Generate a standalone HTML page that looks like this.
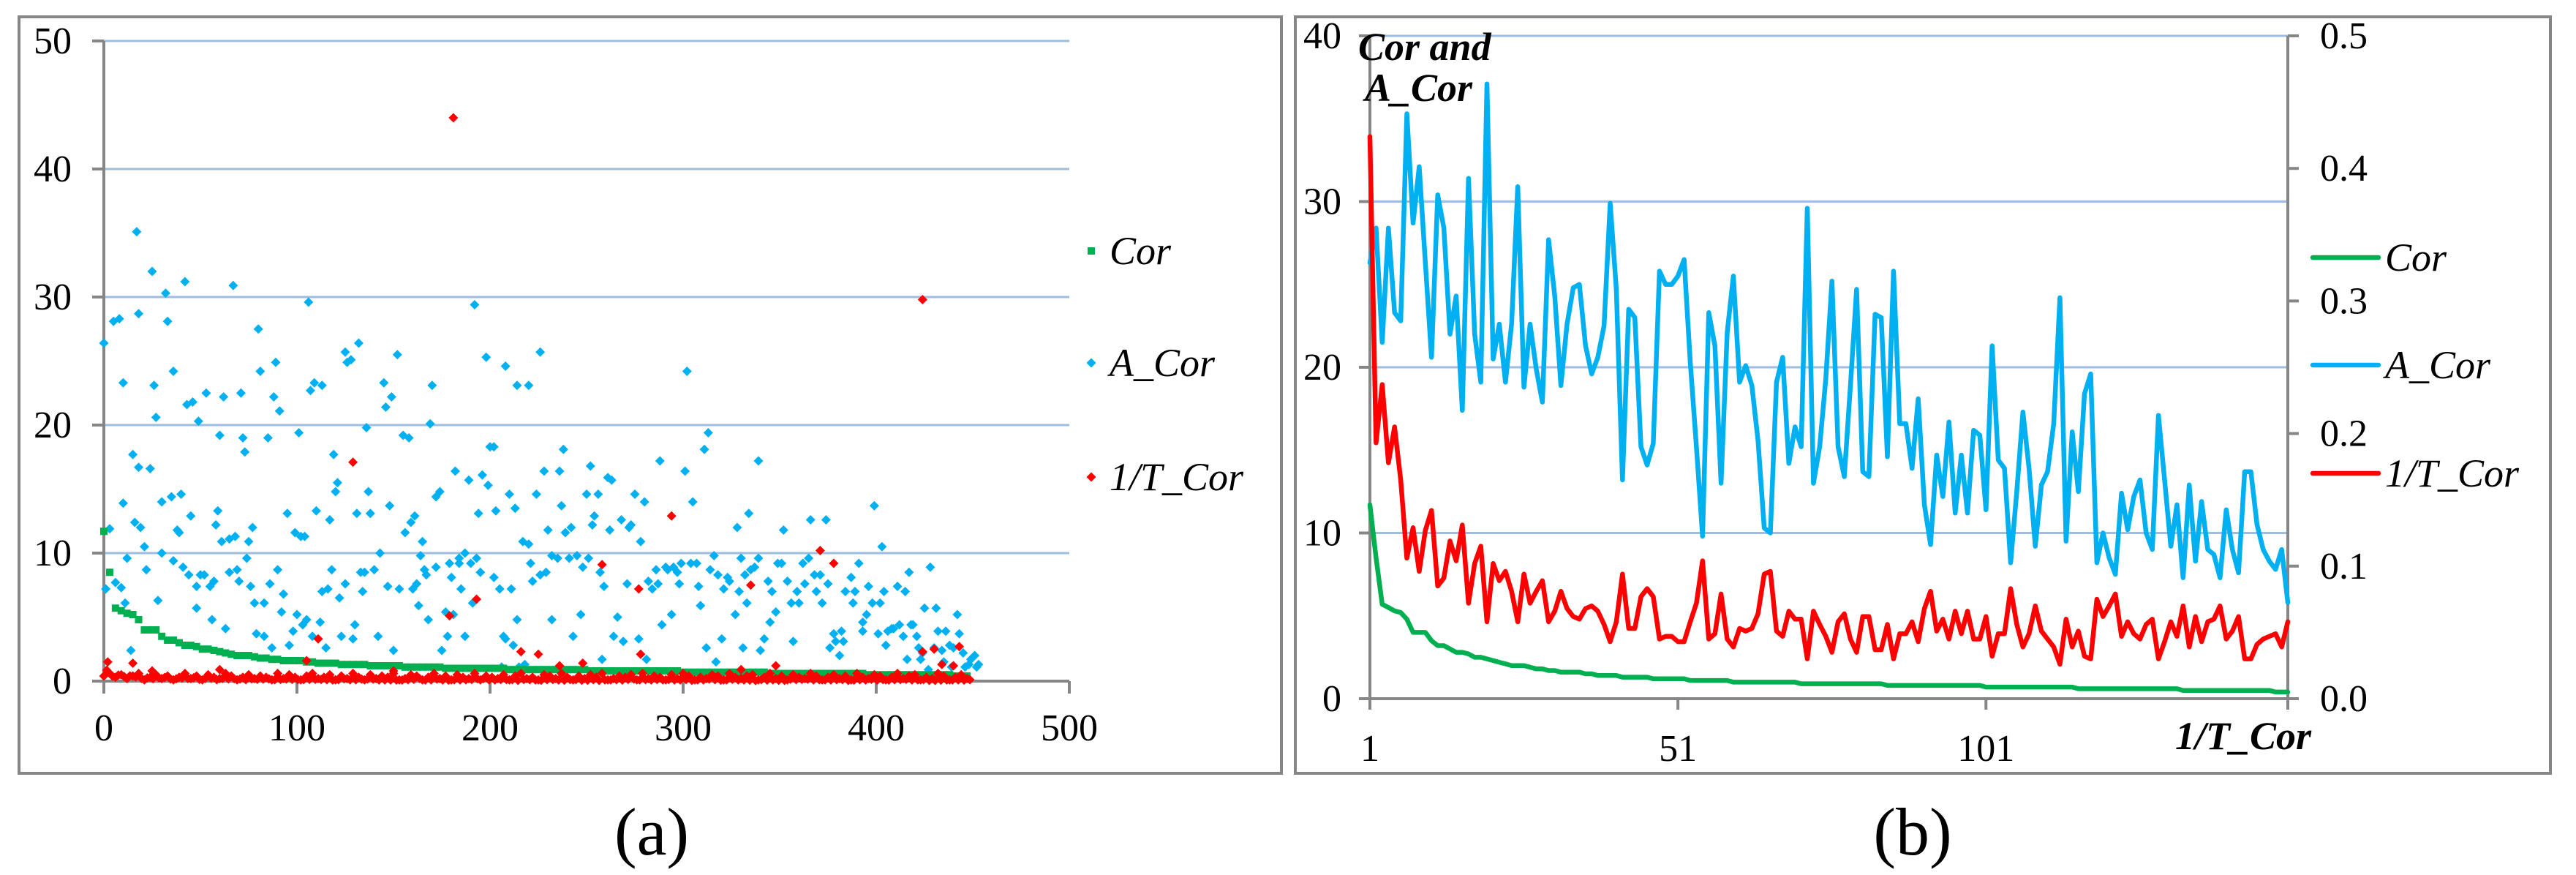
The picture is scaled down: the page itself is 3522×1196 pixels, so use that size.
<!DOCTYPE html>
<html><head><meta charset="utf-8"><style>
html,body{margin:0;padding:0;background:#fff;}
svg{display:block;}
svg text{font-family:"Liberation Serif","Times New Roman","DejaVu Serif",serif;fill:#000;}
</style></head><body>
<svg id="chart" width="3522" height="1196" viewBox="0 0 3522 1196" xmlns="http://www.w3.org/2000/svg" font-family="Liberation Serif, Times New Roman, DejaVu Serif, serif" style="font-family:'Liberation Serif','Times New Roman','DejaVu Serif',serif">
<rect x="0" y="0" width="3522" height="1196" fill="#fff"/>
<rect x="26" y="23" width="1726" height="1034" fill="none" stroke="#868686" stroke-width="4"/>
<rect x="1771" y="23" width="1716" height="1034" fill="none" stroke="#868686" stroke-width="4"/>
<g id="pa"></g>
<g id="pb"></g>
<text x="891" y="1168" font-size="92" text-anchor="middle" font-family="Liberation Serif, serif">(a)</text>
<text x="2615" y="1168" font-size="92" text-anchor="middle" font-family="Liberation Serif, serif">(b)</text>
</svg>
<script>
// ---------- Panel (b) data ----------
const aCorB = [26.3,28.4,21.5,28.4,23.3,22.8,35.3,28.7,32.1,26.3,20.6,30.4,28.4,22.0,24.3,17.4,31.4,22.0,19.1,37.1,20.5,22.6,19.1,22.6,30.9,18.8,22.6,19.9,17.9,27.7,24.3,18.9,22.6,24.8,25.0,21.3,19.6,20.6,22.5,29.9,24.7,13.2,23.5,23.0,15.2,14.1,15.4,25.8,25.0,25.0,25.5,26.5,20.3,15.2,9.8,23.3,21.3,13.0,22.1,25.5,19.1,20.1,18.9,15.6,10.3,10.0,19.1,20.6,14.2,16.4,15.2,29.6,13.0,15.2,19.3,25.2,15.2,13.4,18.9,24.7,13.7,13.4,23.2,23.0,14.6,25.8,16.6,16.6,13.9,18.1,11.7,9.3,14.7,12.2,16.7,11.2,14.7,11.2,16.2,15.9,11.4,21.3,14.4,13.9,8.2,12.5,17.3,13.9,9.2,12.9,13.7,16.6,24.2,9.5,16.1,12.5,18.4,19.6,8.2,10.0,8.5,7.5,12.4,10.2,12.2,13.2,10.0,9.0,17.1,13.2,9.2,11.7,7.3,12.9,8.3,11.9,9.0,8.7,7.3,11.4,9.0,7.6,13.7,13.7,10.5,9.0,8.3,7.8,9.0,5.8];
const tCorB = [0.424,0.193,0.237,0.178,0.205,0.165,0.106,0.129,0.096,0.127,0.142,0.085,0.091,0.119,0.104,0.131,0.072,0.102,0.115,0.058,0.102,0.089,0.096,0.081,0.058,0.094,0.072,0.081,0.089,0.058,0.066,0.081,0.068,0.062,0.060,0.068,0.070,0.066,0.056,0.043,0.058,0.094,0.053,0.053,0.077,0.083,0.077,0.045,0.047,0.047,0.043,0.043,0.058,0.072,0.104,0.045,0.049,0.079,0.045,0.039,0.053,0.051,0.053,0.064,0.094,0.096,0.051,0.047,0.066,0.060,0.060,0.030,0.066,0.056,0.047,0.035,0.058,0.064,0.045,0.035,0.062,0.062,0.037,0.037,0.056,0.030,0.049,0.049,0.058,0.043,0.068,0.081,0.051,0.060,0.045,0.066,0.049,0.066,0.045,0.045,0.062,0.032,0.049,0.049,0.083,0.056,0.039,0.049,0.070,0.051,0.045,0.039,0.026,0.060,0.039,0.051,0.032,0.030,0.075,0.062,0.070,0.079,0.047,0.058,0.049,0.045,0.056,0.060,0.030,0.043,0.058,0.047,0.070,0.039,0.062,0.043,0.058,0.060,0.070,0.045,0.051,0.062,0.030,0.030,0.041,0.045,0.047,0.049,0.039,0.058];
const corB = [11.7,8.5,5.7,5.5,5.3,5.2,4.8,4.0,4.0,4.0,3.5,3.2,3.2,3.0,2.8,2.8,2.7,2.5,2.5,2.4,2.3,2.2,2.1,2.0,2.0,2.0,1.9,1.8,1.8,1.7,1.7,1.6,1.6,1.6,1.6,1.5,1.5,1.4,1.4,1.4,1.4,1.3,1.3,1.3,1.3,1.3,1.2,1.2,1.2,1.2,1.2,1.2,1.1,1.1,1.1,1.1,1.1,1.1,1.1,1.0,1.0,1.0,1.0,1.0,1.0,1.0,1.0,1.0,1.0,1.0,0.9,0.9,0.9,0.9,0.9,0.9,0.9,0.9,0.9,0.9,0.9,0.9,0.9,0.9,0.8,0.8,0.8,0.8,0.8,0.8,0.8,0.8,0.8,0.8,0.8,0.8,0.8,0.8,0.8,0.8,0.7,0.7,0.7,0.7,0.7,0.7,0.7,0.7,0.7,0.7,0.7,0.7,0.7,0.7,0.7,0.6,0.6,0.6,0.6,0.6,0.6,0.6,0.6,0.6,0.6,0.6,0.6,0.6,0.6,0.6,0.6,0.6,0.5,0.5,0.5,0.5,0.5,0.5,0.5,0.5,0.5,0.5,0.5,0.5,0.5,0.5,0.5,0.4,0.4,0.4];
const bLeftTicks = [0,10,20,30,40];
const bRightTicks = ["0.0","0.1","0.2","0.3","0.4","0.5"];
const bXTicks = [1,51,101];

// ---------- Panel (a) data ----------
const aAx = [0,1,3,5,6,8,9,10,10,11,12,14,15,16,17,18,18,19,21,22,24,25,26,27,28,30,30,32,33,35,36,36,38,39,40,41,42,43,44,45,46,48,48,49,50,52,53,55,56,57,58,59,60,61,62,63,65,65,67,68,69,70,71,72,73,74,75,76,77,78,79,80,81,83,83,85,86,87,88,89,90,91,92,93,95,96,98,99,100,101,102,103,104,105,106,107,108,109,110,112,113,113,115,116,117,118,119,120,121,122,123,125,125,126,128,129,130,131,132,133,134,135,136,137,138,140,142,143,145,146,147,148,149,150,152,153,155,156,158,159,160,161,162,163,164,165,166,167,168,169,170,172,172,174,175,177,178,179,180,181,182,184,184,185,187,187,189,190,191,192,193,194,195,196,198,199,200,202,202,203,205,206,207,208,208,210,211,212,213,214,214,215,217,218,220,220,221,222,224,226,226,228,229,230,232,232,235,236,237,238,239,241,242,243,245,247,248,250,251,252,253,254,256,257,258,259,261,262,263,264,266,268,269,271,272,273,275,277,278,280,281,282,284,286,287,288,289,291,292,294,295,297,298,299,301,302,304,305,307,308,309,311,312,313,314,316,317,318,320,321,323,324,327,328,329,330,331,332,333,334,335,337,339,339,340,342,344,345,346,348,349,351,352,354,356,357,359,360,362,363,365,366,368,369,371,372,374,375,376,378,379,381,382,383,384,387,388,389,391,393,393,395,396,398,399,401,402,403,404,405,406,408,409,411,412,414,415,416,417,418,419,421,422,423,424,425,427,428,430,431,432,434,435,436,438,439,440,442,443,445,446,448,449,451,452,453];
const aAy = [26.4,7.2,11.9,28.1,7.7,28.3,7.3,23.3,13.9,6.1,9.6,2.4,17.7,12.4,35.1,16.7,28.7,12.0,10.5,8.7,16.6,32.0,23.1,20.6,6.3,14.0,10.0,30.3,28.1,14.4,24.2,9.4,11.8,11.6,14.6,8.9,31.2,21.6,8.3,12.9,21.8,5.7,7.4,20.3,8.3,8.3,22.5,7.4,4.8,7.8,12.2,13.3,19.2,10.9,22.2,4.1,11.1,8.5,30.9,11.3,8.7,7.8,22.5,19.0,17.9,9.6,10.9,7.4,12.0,6.1,3.7,27.5,24.2,3.5,6.1,19.0,7.6,2.6,22.2,24.9,8.7,21.1,5.4,6.8,13.1,2.8,3.9,11.6,5.2,19.4,11.3,4.4,11.3,4.8,29.6,22.7,3.5,23.3,13.3,4.6,7.0,23.1,2.6,7.2,12.6,8.7,17.7,14.8,15.5,6.5,3.5,7.6,25.7,24.9,25.1,3.3,4.4,13.1,26.4,8.5,7.0,8.5,19.8,14.8,13.1,8.7,3.5,10.0,23.3,21.4,7.4,13.7,22.2,2.4,25.5,7.2,19.2,11.6,19.0,12.4,7.2,12.9,7.6,5.9,9.8,10.9,8.7,8.3,4.8,20.1,23.1,14.4,8.9,14.8,2.4,5.4,3.5,9.2,8.1,5.2,16.4,9.6,9.2,7.2,3.5,10.0,15.7,9.2,6.1,29.4,9.6,13.1,8.5,16.1,25.3,15.3,18.3,8.1,18.3,13.3,7.2,1.1,3.5,3.3,24.6,14.6,7.2,2.8,13.5,23.1,4.8,1.1,10.9,1.3,23.1,10.7,9.2,7.8,14.6,25.7,8.3,16.4,8.5,11.8,4.8,9.8,9.6,16.4,13.7,18.1,11.6,9.6,12.0,3.5,9.8,5.2,8.9,14.6,9.6,16.8,12.2,12.9,14.6,8.5,1.7,7.4,15.9,11.8,15.7,3.5,5.0,12.6,3.1,7.6,12.0,12.2,14.6,3.3,10.9,14.0,1.7,7.8,7.2,8.7,7.6,17.2,4.4,8.9,8.7,5.2,8.9,8.5,7.6,9.2,16.4,24.2,9.2,14.0,9.2,7.4,5.9,18.1,2.6,19.4,8.7,9.8,1.5,8.3,3.3,7.2,8.1,7.8,5.2,12.0,7.0,9.6,2.6,8.3,6.1,13.1,8.7,8.9,17.2,9.6,2.4,3.3,7.8,4.6,7.0,5.4,9.2,9.2,11.8,7.8,6.1,3.1,7.0,6.1,9.2,7.6,9.6,12.6,8.3,7.0,8.3,6.1,12.6,7.6,2.6,3.7,3.1,2.0,3.9,3.1,7.0,8.1,6.1,7.0,9.2,3.9,4.6,5.2,7.4,6.1,13.7,3.7,6.1,10.5,7.0,2.8,3.9,4.1,4.1,7.4,4.4,3.5,7.0,1.7,8.5,4.4,4.4,3.5,2.6,1.7,2.2,5.7,0.9,8.9,2.6,5.7,3.9,2.4,1.5,3.9,2.8,1.1,2.6,5.2,3.7,2.2,1.1,1.3,1.7,2.0,1.1,1.3];
const aCorY = corB;
const aCorStep = 3;
const aTLow = [0.4,0.6,0.3,0.5,0.2,0.4,0.6,0.1,0.3,0.5,0.2,0.4,0.1,0.3,0.6,0.2,0.4,0.1,0.5,0.3,0.2,0.6,0.4,0.1,0.3,0.5,0.2,0.4,0.3,0.1,0.6,0.2,0.5,0.3,0.1,0.4,0.6,0.2,0.3,0.5,0.1,0.4,0.2,0.6,0.3,0.1,0.5,0.2,0.4,0.3,0.6,0.1,0.2,0.5,0.4,0.1,0.3,0.6,0.2,0.4,0.1,0.5,0.3,0.2,0.6,0.1,0.4,0.3,0.2,0.5,0.1,0.4,0.6,0.2,0.3,0.1,0.5,0.4,0.2,0.6,0.3,0.1,0.4,0.2,0.5,0.3,0.6,0.1,0.2,0.4,0.3,0.5,0.1,0.6,0.2,0.4,0.3,0.1,0.5,0.2,0.6,0.4,0.1,0.3,0.2,0.5,0.4,0.1,0.6,0.3,0.2,0.4,0.5,0.1,0.3,0.6,0.2,0.4,0.1,0.5,0.3,0.2,0.6,0.4,0.1,0.3,0.5,0.2,0.4,0.1,0.6,0.3,0.2,0.5,0.4,0.1,0.3,0.6,0.2,0.4,0.5,0.1,0.3,0.2,0.6,0.4,0.1,0.3,0.5,0.2];
const aTOutX = [181,424,129,294,371,378,258,335,277,193,179,111,216,225,278,430,424,443,105,2,15,248,236,348,434,440,25,60,150,330];
const aTOutY = [44,29.8,17.1,12.9,10.2,9.2,9.1,7.5,7.2,6.4,5.1,3.3,2.3,2.1,2.1,2.5,2.3,2.7,1.6,1.5,1.4,1.4,1.2,1.2,1.3,1.2,0.8,0.9,0.8,0.9];
const aYTicks = [0,10,20,30,40,50];
const aXTicks = [0,100,200,300,400,500];

const NS = "http://www.w3.org/2000/svg";
const FONT = "Liberation Serif, Times New Roman, DejaVu Serif, serif";
function mk(parent, tag, attrs, txt){
  const e = document.createElementNS(NS, tag);
  for (const k in attrs) e.setAttribute(k, attrs[k]);
  if (tag === "text") e.setAttribute("font-family", FONT);
  if (txt !== undefined) e.textContent = txt;
  parent.appendChild(e);
  return e;
}
const GRID = "#9DBEE0", AXIS = "#868686";
const GREEN = "#00B050", BLUE = "#00B0F0", RED = "#FF0000";

// ---------- Panel (a) ----------
const pa = document.getElementById("pa");
const ax = v => 142 + (v/500)*1320;
const ay = v => 931 - (v/50)*875;
aYTicks.forEach(t => {
  if (t > 0) {
    const g = mk(pa, "line", {x1:142, x2:1462, y1:ay(t), y2:ay(t), stroke:GRID, "stroke-width":3});
    
    
  }
  const tk = mk(pa, "line", {x1:126, x2:142, y1:ay(t), y2:ay(t), stroke:AXIS, "stroke-width":4});
  
  
  const lb = mk(pa, "text", {x:98, y:ay(t)+17, "font-size":52, "text-anchor":"end"}, String(t));
  
  
});
aXTicks.forEach(t => {
  const tk = mk(pa, "line", {x1:ax(t), x2:ax(t), y1:931, y2:948, stroke:AXIS, "stroke-width":4});
  
  
  const lb = mk(pa, "text", {x:ax(t), y:1012, "font-size":52, "text-anchor":"middle"}, String(t));
  
  
});
const aAxisY = mk(pa, "line", {x1:142, x2:142, y1:56, y2:948, stroke:AXIS, "stroke-width":4});


const aAxisX = mk(pa, "line", {x1:126, x2:1462, y1:931, y2:931, stroke:AXIS, "stroke-width":4});



function diamond(parent, cx, cy, r, fill){
  return mk(parent, "polygon", {points:`${cx},${cy-r} ${cx+r},${cy} ${cx},${cy+r} ${cx-r},${cy}`, fill:fill});
}
const gA = mk(pa, "g", {});


aAx.forEach((x,i) => {
  const d = diamond(gA, ax(x), ay(aAy[i]), 6.5, BLUE);
  
  
});
const gC = mk(pa, "g", {});


aCorY.forEach((v,i) => {
  const r = mk(gC, "rect", {x:ax(i*aCorStep)-5, y:ay(v)-5, width:10, height:10, fill:GREEN});
  
  
});
const gT = mk(pa, "g", {});


aTLow.forEach((v,i) => {
  const d = diamond(gT, ax(i*aCorStep), ay(v), 6.5, RED);
  
  
});
tCorB.forEach((v,i) => {
  const d = diamond(gT, ax(i*aCorStep+1.5), ay(v*2), 6.5, RED);
  
  
});
aTOutX.forEach((x,i) => {
  const d = diamond(gT, ax(x), ay(aTOutY[i]), 6.5, RED);
  
  
});
// legend a
const aLeg = [["Cor",343,GREEN,"sq"],["A_Cor",496,BLUE,"di"],["1/T_Cor",652,RED,"di"]];
aLeg.forEach(l => {
  const g = mk(pa, "g", {});
  
  
  if (l[3] === "sq") mk(g, "rect", {x:1487, y:l[1]-5, width:10, height:10, fill:l[2]});
  else diamond(g, 1492, l[1], 6.5, l[2]);
  mk(g, "text", {x:1517, y:l[1]+18, "font-size":54, "font-style":"italic"}, l[0]);
});

// ---------- Panel (b) ----------
const pb = document.getElementById("pb");
const N = aCorB.length;
const bx = i => 1873 + (i/(N-1))*(3128-1873);
const byL = v => 955 - (v/40)*906;
const byR = v => 955 - (v/0.5)*906;
bLeftTicks.forEach(t => {
  if (t > 0) {
    const g = mk(pb, "line", {x1:1873, x2:3128, y1:byL(t), y2:byL(t), stroke:GRID, "stroke-width":3});
    
    
  }
  const tk = mk(pb, "line", {x1:1858, x2:1873, y1:byL(t), y2:byL(t), stroke:AXIS, "stroke-width":4});
  
  
  const lb = mk(pb, "text", {x:1834, y:byL(t)+17, "font-size":52, "text-anchor":"end"}, String(t));
  
  
});
bRightTicks.forEach((t,i) => {
  const v = parseFloat(t);
  const tk = mk(pb, "line", {x1:3128, x2:3143, y1:byR(v), y2:byR(v), stroke:AXIS, "stroke-width":4});
  
  
  const lb = mk(pb, "text", {x:3172, y:byR(v)+17, "font-size":52}, t);
  
  
});
bXTicks.forEach(t => {
  const lb = mk(pb, "text", {x:bx(t-1), y:1040, "font-size":52, "text-anchor":"middle"}, String(t));
  
  
});
[0,50,100,150].forEach(i => {
  const tk = mk(pb, "line", {x1:bx(Math.min(i,N-1)), x2:bx(Math.min(i,N-1)), y1:955, y2:970, stroke:AXIS, "stroke-width":4});
  
  
});
const bAxL = mk(pb, "line", {x1:1873, x2:1873, y1:49, y2:970, stroke:AXIS, "stroke-width":4});


const bAxR = mk(pb, "line", {x1:3128, x2:3128, y1:49, y2:970, stroke:AXIS, "stroke-width":4});


const bAxX = mk(pb, "line", {x1:1858, x2:3143, y1:955, y2:955, stroke:AXIS, "stroke-width":4});



function line(arr, yf, color, name){
  const pts = arr.map((v,i) => `${bx(i).toFixed(1)},${yf(v).toFixed(1)}`).join(" ");
  const p = mk(pb, "polyline", {points:pts, fill:"none", stroke:color, "stroke-width":6.5, "stroke-linejoin":"round", "stroke-linecap":"round"});
  
  
}
line(aCorB, byL, BLUE, 'b-line-a-cor');
line(tCorB, byR, RED, 'b-line-1-t-cor');
line(corB, byL, GREEN, 'b-line-cor');

const t1 = mk(pb, "text", {x:1857, y:82, "font-size":54, "font-style":"italic", "font-weight":"bold"}, "Cor and");


const t2 = mk(pb, "text", {x:1866, y:138, "font-size":54, "font-style":"italic", "font-weight":"bold"}, "A_Cor");


const t3 = mk(pb, "text", {x:3160, y:1024, "font-size":54, "font-style":"italic", "font-weight":"bold", "text-anchor":"end"}, "1/T_Cor");



const bLeg = [["Cor",352,GREEN],["A_Cor",499,BLUE],["1/T_Cor",647,RED]];
bLeg.forEach(l => {
  const g = mk(pb, "g", {});
  
  
  mk(g, "line", {x1:3162, x2:3252, y1:l[1], y2:l[1], stroke:l[2], "stroke-width":6.5, "stroke-linecap":"round"});
  mk(g, "text", {x:3261, y:l[1]+18, "font-size":54, "font-style":"italic"}, l[0]);
});
</script>
</body></html>
